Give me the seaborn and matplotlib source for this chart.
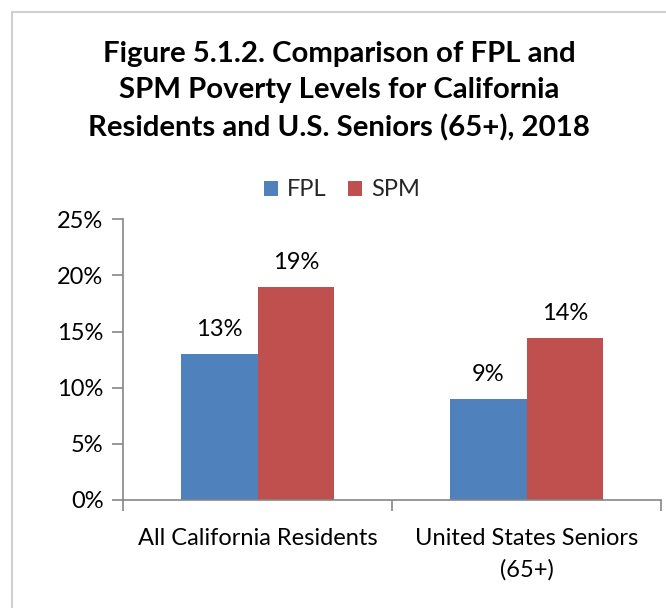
import matplotlib
matplotlib.use("Agg")
import matplotlib.pyplot as plt
import seaborn as sns
import pandas as pd
from matplotlib.patches import Rectangle, Patch
from matplotlib.ticker import FuncFormatter

categories = ["All California Residents", "United States Seniors\n(65+)"]
series = ["FPL", "SPM"]
fpl = [13.0, 9.0]
spm = [19.0, 14.4]
fpl_labels = ["13%", "9%"]
spm_labels = ["19%", "14%"]
yticks = [0, 5, 10, 15, 20, 25]

colors = {"FPL": "#4F81BD", "SPM": "#C0504D"}

df = pd.DataFrame({
    "category": categories * 2,
    "series": ["FPL"] * len(categories) + ["SPM"] * len(categories),
    "value": fpl + spm,
})

sns.set_style("white")
FONT = ["Lato", "DejaVu Sans"]
plt.rcParams["font.family"] = FONT

W, H = 666, 608
fig = plt.figure(figsize=(W / 100, H / 100), dpi=100)
fig.patch.set_facecolor("white")

# border
fig.patches.append(Rectangle((12 / W, -0.05), 1.2, 1 - 12 / H + 0.05,
                             transform=fig.transFigure, fill=False,
                             edgecolor="#D0D0D0", linewidth=1.5))

FS = 17
ax = fig.add_axes([123 / W, 1 - 500 / H, (661 - 123) / W, (500 - 219.3) / H])
sns.barplot(data=df, x="category", y="value", hue="series", palette=colors,
            order=categories, hue_order=series, width=0.57, gap=0,
            saturation=1, edgecolor="none", linewidth=0, ax=ax, legend=False)

ax.set_xlim(-0.5, 1.5)
ax.set_ylim(0, 25)
ax.set_yticks(yticks)
ax.yaxis.set_major_formatter(FuncFormatter(lambda v, p: f"{int(v)}%"))
ax.set_xticks([-0.5, 0.5, 1.5])
ax.set_xticklabels([])
ax.set_xlabel("")
ax.set_ylabel("")
for s in ["top", "right"]:
    ax.spines[s].set_visible(False)
for s in ["left", "bottom"]:
    ax.spines[s].set_color("#868686")
    ax.spines[s].set_linewidth(1.2)
ax.tick_params(axis="y", direction="out", length=8, width=1.2, color="#868686",
               labelsize=FS, labelcolor="#000000", pad=6, left=True)
ax.tick_params(axis="x", direction="out", length=8, width=1.2, color="#868686",
               bottom=True)

for i, cat in enumerate(categories):
    ax.text(i, -2.45, cat, ha="center", va="top", fontsize=FS,
            linespacing=1.6, color="#000000")

# value labels
for cont, labs in zip(ax.containers, [fpl_labels, spm_labels]):
    ax.bar_label(cont, labels=labs, padding=10, fontsize=FS, color="#000000")

fig.text(339 / W, 1 - 91 / H,
         "Figure 5.1.2. Comparison of FPL and\nSPM Poverty Levels for California\nResidents and U.S. Seniors (65+), 2018",
         ha="center", va="center", fontsize=21.2, fontweight="bold",
         linespacing=1.5, color="#000000")

handles = [Patch(facecolor=colors[s], edgecolor="none") for s in series]
fig.legend(handles, series, loc="center", bbox_to_anchor=(342 / W, 1 - 190 / H),
           ncol=2, frameon=False, fontsize=FS, handlelength=0.6,
           handleheight=0.6, handletextpad=0.4, columnspacing=0.9)

fig.savefig("out.png", dpi=100, facecolor="white")
